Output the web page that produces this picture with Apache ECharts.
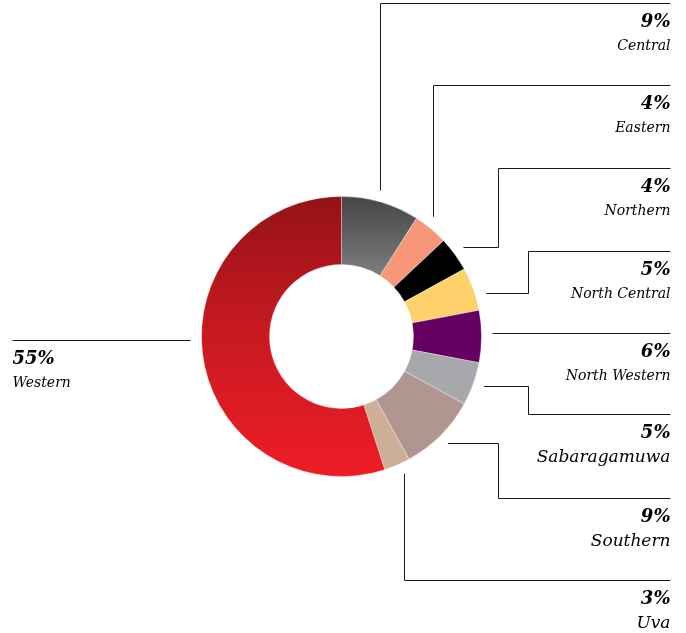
<!DOCTYPE html>
<html>
<head>
<meta charset="utf-8">
<style>
  html, body { margin: 0; padding: 0; background: #ffffff; }
  #chart { width: 686px; height: 633px; }
</style>
<script src="https://cdn.jsdelivr.net/npm/echarts@6/dist/echarts.min.js"></script>
</head>
<body>
<div id="chart"></div>
<script>
// Share of total by province (percent), clockwise from 12 o'clock
const provinces = ['Central', 'Eastern', 'Northern', 'North Central', 'North Western',
                   'Sabaragamuwa', 'Southern', 'Uva', 'Western'];
const shares = [9, 4, 4, 5, 6, 5, 9, 3, 55];

// Slice fills
const sliceColors = [
  { type: 'linear', x: 0, y: 0, x2: 0, y2: 1,
    colorStops: [{ offset: 0, color: '#454546' }, { offset: 1, color: '#7d7e80' }] },
  '#f7977a', '#000000', '#fed16b', '#650062', '#a7a8ac', '#b09591', '#ccaf96',
  { type: 'linear', x: 0, y: 0, x2: 0, y2: 1,
    colorStops: [{ offset: 0, color: '#931218' }, { offset: 0.5, color: '#c91a21' }, { offset: 1, color: '#ee1c25' }] }
];

// Ring geometry
const CX = 341.5, CY = 336.5, R_IN = 72, R_OUT = 140, R_LEAD = 151;
const RIGHT_X = 670.5, LEFT_X = 12.5;

// Leader routing: 'v' leaves the ring vertically at x, 'h' horizontally at y;
// elbowX adds a step, lineY is the rule the label sits under.
const leaderRoutes = [
  { dir: 'v', x: 380.5, lineY: 3.5 },
  { dir: 'v', x: 433.5, lineY: 85.5 },
  { dir: 'h', y: 247.5, elbowX: 498.5, lineY: 168.5 },
  { dir: 'h', y: 293.5, elbowX: 528.5, lineY: 251.5 },
  { dir: 'h', y: 333.5, lineY: 333.5 },
  { dir: 'h', y: 386.5, elbowX: 528.5, lineY: 414.5 },
  { dir: 'h', y: 443.5, elbowX: 498.5, lineY: 498.5 },
  { dir: 'v', x: 404.5, lineY: 580.5 },
  { dir: 'h', y: 340.5, lineY: 340.5, left: true }
];
const largeNames = ['Sabaragamuwa', 'Southern', 'Uva'];

function leaderPoints(route) {
  if (route.dir === 'v') {
    const dx = route.x - CX;
    const dy = Math.sqrt(R_LEAD * R_LEAD - dx * dx);
    const y0 = route.lineY < CY ? CY - dy : CY + dy;
    return [[route.x, y0], [route.x, route.lineY], [RIGHT_X, route.lineY]];
  }
  const dy = route.y - CY;
  const dx = Math.sqrt(R_LEAD * R_LEAD - dy * dy);
  if (route.left) {
    return [[CX - dx, route.y], [LEFT_X, route.y]];
  }
  const pts = [[CX + dx, route.y]];
  if (route.elbowX !== undefined) {
    pts.push([route.elbowX, route.y], [route.elbowX, route.lineY]);
  }
  pts.push([RIGHT_X, route.lineY]);
  return pts;
}

const serif = '"DejaVu Serif", "Liberation Serif", serif';

const chart = echarts.init(document.getElementById('chart'), null, { renderer: 'canvas' });
chart.setOption({
  animation: false,
  backgroundColor: '#ffffff',
  series: [{
    type: 'pie',
    center: [CX, CY],
    radius: [R_IN, R_OUT],
    startAngle: 90,
    clockwise: true,
    avoidLabelOverlap: false,
    itemStyle: { borderColor: 'rgba(255,255,255,0.55)', borderWidth: 0.6 },
    emphasis: { disabled: true },
    data: provinces.map((name, i) => ({
      name: name,
      value: shares[i],
      itemStyle: { color: sliceColors[i] },
      label: { align: leaderRoutes[i].left ? 'left' : 'right' }
    })),
    label: {
      show: true,
      position: 'outside',
      align: 'right',
      formatter: p => '{p|' + p.value + '%}\n{' + (largeNames.indexOf(p.name) >= 0 ? 'nl' : 'n') + '|' + p.name + '}',
      rich: {
        p: { fontFamily: serif, fontWeight: 'bold', fontStyle: 'italic', fontSize: 18, lineHeight: 24, color: '#000000' },
        n: { fontFamily: serif, fontStyle: 'italic', fontSize: 14, lineHeight: 24, color: '#000000' },
        nl: { fontFamily: serif, fontStyle: 'italic', fontSize: 17, lineHeight: 24, color: '#000000' }
      }
    },
    labelLine: {
      show: true,
      smooth: false,
      lineStyle: { color: '#1a1a1a', width: 1 }
    },
    labelLayout: params => {
      const route = leaderRoutes[params.dataIndex];
      return {
        x: route.left ? LEFT_X : RIGHT_X,
        y: route.lineY + 7,
        align: route.left ? 'left' : 'right',
        verticalAlign: 'top',
        labelLinePoints: leaderPoints(route)
      };
    }
  }]
});
</script>
</body>
</html>
